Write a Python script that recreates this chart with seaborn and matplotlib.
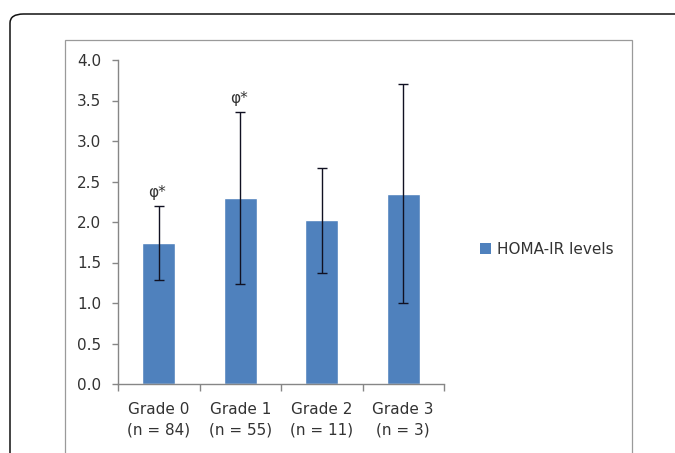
import matplotlib
matplotlib.use("Agg")
import matplotlib.pyplot as plt
from matplotlib.patches import Patch, FancyBboxPatch, Rectangle
import seaborn as sns
import pandas as pd

# ---------------------------------------------------------------------------
# Data
# ---------------------------------------------------------------------------

GRADES      = ["Grade 0\n(n = 84)", "Grade 1\n(n = 55)", "Grade 2\n(n = 11)", "Grade 3\n(n = 3)"]
HOMA_MEAN   = [1.74, 2.30, 2.02, 2.35]
HOMA_SD     = [0.46, 1.06, 0.65, 1.35]
SIG_MARKS   = ["φ*", "φ*", "", ""]
SERIES_NAME = "HOMA-IR levels"

BAR_COLOR   = "#4F81BD"
AXIS_COLOR  = "#868686"
TEXT_COLOR  = "#333333"

df = pd.DataFrame({"grade": GRADES, "homa": HOMA_MEAN, "sd": HOMA_SD})

# ---------------------------------------------------------------------------
# Figure
# ---------------------------------------------------------------------------

sns.set_style("white")
plt.rcParams["font.family"] = ["DejaVu Sans"]

W, H = 675, 453
fig = plt.figure(figsize=(W / 100, H / 100), dpi=100)
fig.patch.set_facecolor("white")

# outer rounded frame and inner chart-area frame
fig.patches.append(FancyBboxPatch(
    (10 / W, 1 - 470 / H), 700 / W, 456 / H,
    boxstyle="round,pad=0,rounding_size=0.02",
    transform=fig.transFigure, fill=False, edgecolor="#111111", linewidth=1.1,
))
fig.patches.append(Rectangle(
    (65 / W, -0.05), 567 / W, 1.05 - 40 / H,
    transform=fig.transFigure, fill=False, edgecolor="#9a9a9a", linewidth=0.9,
))

ax = fig.add_axes([118 / W, 1 - 384 / H, 326 / W, 324 / H])

sns.barplot(data=df, x="grade", y="homa", color=BAR_COLOR, width=0.41,
            errorbar=None, saturation=1, ax=ax)
ax.errorbar(range(len(df)), df["homa"], yerr=df["sd"], fmt="none",
            ecolor="#111122", elinewidth=1.0, capsize=3.8, capthick=1.0, zorder=4)

for i, (mark, m, s) in enumerate(zip(SIG_MARKS, HOMA_MEAN, HOMA_SD)):
    if mark:
        ax.annotate(mark, xy=(i, m + s), xytext=(-1, 4), textcoords="offset points",
                    ha="center", va="bottom", fontsize=11, color=TEXT_COLOR)

ax.set_xlim(-0.5, len(df) - 0.5)
ax.set_ylim(0, 4.0)
ax.set_yticks([0, 0.5, 1.0, 1.5, 2.0, 2.5, 3.0, 3.5, 4.0])
ax.set_yticklabels([f"{v:.1f}" for v in ax.get_yticks()])
ax.set_xlabel("")
ax.set_ylabel("")

for side in ["top", "right"]:
    ax.spines[side].set_visible(False)
for side in ["left", "bottom"]:
    ax.spines[side].set_color(AXIS_COLOR)
    ax.spines[side].set_linewidth(1.0)

ax.tick_params(axis="y", left=True, length=4, width=1.0, color=AXIS_COLOR,
               labelsize=11, labelcolor=TEXT_COLOR, pad=8)
ax.tick_params(axis="x", which="major", length=0, labelsize=11,
               labelcolor=TEXT_COLOR, pad=13)
ax.set_xticks([i - 0.5 for i in range(len(df) + 1)], minor=True)
ax.tick_params(axis="x", which="minor", bottom=True, length=5, width=1.0, color=AXIS_COLOR)
for lbl in ax.get_xticklabels():
    lbl.set_linespacing(1.45)

fig.legend(handles=[Patch(facecolor=BAR_COLOR, edgecolor="none", label=SERIES_NAME)],
           loc="center left", bbox_to_anchor=(472 / W, 1 - 249 / H),
           bbox_transform=fig.transFigure, frameon=False, fontsize=11,
           handlelength=0.75, handleheight=0.75, handletextpad=0.4,
           borderpad=0, labelcolor=TEXT_COLOR)

fig.savefig("out.png", dpi=100)
plt.close(fig)
